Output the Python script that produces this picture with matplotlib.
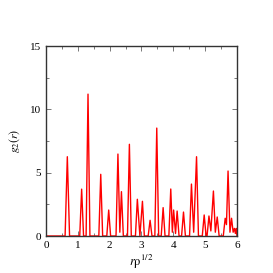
import matplotlib
matplotlib.use("Agg")
import matplotlib.pyplot as plt
from matplotlib.ticker import MultipleLocator

plt.rcParams["mathtext.fontset"] = "stix"
plt.rcParams["font.family"] = ["Liberation Serif", "DejaVu Serif"]

# pair distribution g2(r): spikes on a zero baseline
r = [0.0, 0.60, 0.67, 0.74, 1.06, 1.12, 1.18, 1.26, 1.32, 1.38, 1.66, 1.72, 1.78,
     1.91, 1.97, 2.03, 2.20, 2.26, 2.32, 2.37, 2.43, 2.56, 2.62, 2.68, 2.81, 2.87,
     2.95, 3.03, 3.09, 3.21, 3.27, 3.33, 3.42, 3.48, 3.54, 3.62, 3.68, 3.74, 3.86,
     3.92, 3.97, 4.01, 4.07, 4.12, 4.18, 4.26, 4.32, 4.38, 4.51, 4.57, 4.64, 4.73,
     4.79, 4.91, 4.97, 5.03, 5.06, 5.12, 5.18, 5.26, 5.32, 5.38, 5.44, 5.57, 5.63,
     5.67, 5.72, 5.78, 5.83, 5.88, 5.92, 5.95, 5.98, 6.0]
g = [0.0, 0.0, 6.26, 0.0, 0.0, 3.7, 0.0, 0.0, 11.2, 0.0, 0.0, 4.87, 0.0,
     0.0, 2.05, 0.0, 0.0, 6.47, 0.3, 3.5, 0.0, 0.0, 7.24, 0.0, 0.0, 2.9,
     0.0, 2.74, 0.0, 0.0, 1.24, 0.0, 0.0, 8.52, 0.0, 0.0, 2.24, 0.0, 0.0,
     3.71, 0.3, 2.05, 0.2, 1.97, 0.0, 0.0, 1.89, 0.0, 0.0, 4.1, 0.3, 6.26,
     0.0, 0.0, 1.66, 0.0, 0.0, 1.58, 0.4, 3.55, 0.3, 1.5, 0.0, 0.0, 1.4,
     0.9, 5.13, 0.3, 1.4, 0.3, 0.6, 0.2, 0.6, 0.0]

fig = plt.figure(figsize=(2.73, 2.73), dpi=100)
fig.patch.set_facecolor("white")
ax = fig.add_axes([0.1685, 0.1355, 0.6995, 0.696])

ax.plot(r, g, color="red", lw=1.0)

ax.set_xlim(0, 6)
ax.set_ylim(0, 15)
ax.xaxis.set_major_locator(MultipleLocator(1))
ax.xaxis.set_minor_locator(MultipleLocator(0.5))
ax.yaxis.set_major_locator(MultipleLocator(5))
ax.yaxis.set_minor_locator(MultipleLocator(2.5))
ax.tick_params(which="both", direction="in", top=True, right=True,
               labelsize=8, width=0.5, colors="#444444", labelcolor="black")
ax.tick_params(which="major", length=3.5)
ax.tick_params(which="minor", length=2)
for s in ax.spines.values():
    s.set_linewidth(1.0)
    s.set_color("#333333")

ax.set_xlabel(r"$r\mathrm{\rho}^{1/2}$", fontsize=9, labelpad=2)
ax.set_ylabel(r"$g_2(r)$", fontsize=8.5, labelpad=6)

fig.savefig("out.png", dpi=100)
plt.close()
